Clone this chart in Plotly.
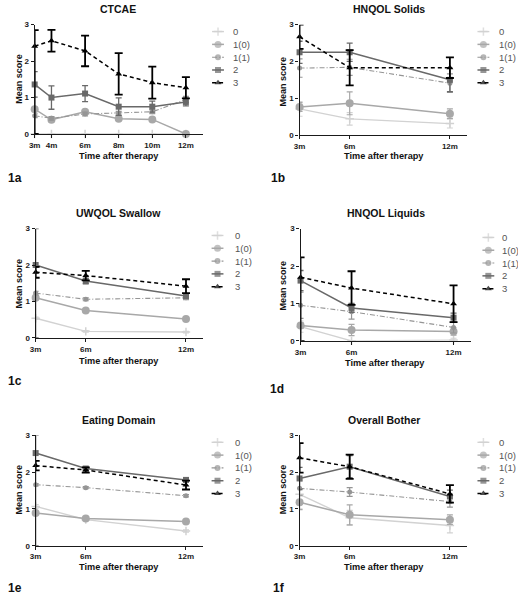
import plotly.graph_objects as go

W, H = 518, 599

SERIES = ["0", "1(0)", "1(1)", "2", "3"]

# ---------------- data ----------------
CTCAE_X = [3, 4, 6, 8, 10, 12]
CTCAE_TICKS = ["3m", "4m", "6m", "8m", "10m", "12m"]
CTCAE_0 = [0, 0, 0, 0, 0, 0]
CTCAE_10 = [0.68, 0.39, 0.61, 0.42, 0.40, 0.0]
CTCAE_11 = [0.50, 0.43, 0.55, 0.57, 0.61, 0.95]
CTCAE_2 = [1.36, 1.00, 1.11, 0.75, 0.75, 0.88]
CTCAE_3 = [2.41, 2.56, 2.28, 1.65, 1.41, 1.27]
CTCAE_0_ERR = [0, 0, 0, 0, 0, 0]
CTCAE_10_ERR = [0.05, 0.05, 0.05, 0.04, 0.04, 0]
CTCAE_11_ERR = [0.05, 0.05, 0.05, 0.05, 0.05, 0.08]
CTCAE_2_ERR = [0.35, 0.32, 0.22, 0.24, 0.15, 0.11]
CTCAE_3_ERR = [0.44, 0.30, 0.42, 0.57, 0.44, 0.29]
CTCAE_3_ERR_LO = [2.41, 0.30, 0.42, 0.57, 0.44, 0.29]

M3_X = [3, 6, 12]
M3_TICKS = ["3m", "6m", "12m"]

SOLIDS_0 = [0.71, 0.44, 0.31]
SOLIDS_10 = [0.76, 0.86, 0.58]
SOLIDS_11 = [1.82, 1.84, 1.41]
SOLIDS_2 = [2.25, 2.25, 1.50]
SOLIDS_3 = [2.67, 1.83, 1.83]
SOLIDS_0_ERR = [0.20, 0.17, 0.12]
SOLIDS_10_ERR = [0.12, 0.31, 0.13]
SOLIDS_11_ERR = [0.25, 0.22, 0.25]
SOLIDS_2_ERR = [0.30, 0.25, 0.32]
SOLIDS_3_ERR = [0.33, 0.48, 0.28]

SWALLOW_0 = [0.54, 0.18, 0.16]
SWALLOW_10 = [1.10, 0.75, 0.52]
SWALLOW_11 = [1.23, 1.06, 1.10]
SWALLOW_2 = [2.00, 1.56, 1.15]
SWALLOW_3 = [1.80, 1.71, 1.42]
SWALLOW_0_ERR = [0.03, 0.02, 0.02]
SWALLOW_10_ERR = [0.05, 0.04, 0.04]
SWALLOW_11_ERR = [0.05, 0.04, 0.05]
SWALLOW_2_ERR = [1.00, 0.08, 0.06]
SWALLOW_2_ERR_LO = [2.00, 0.08, 0.06]
SWALLOW_3_ERR = [0.15, 0.13, 0.19]

LIQUIDS_0 = [0.38, 0.0, 0.02]
LIQUIDS_10 = [0.41, 0.29, 0.25]
LIQUIDS_11 = [0.95, 0.78, 0.36]
LIQUIDS_2 = [1.61, 0.88, 0.62]
LIQUIDS_3 = [1.70, 1.41, 0.99]
LIQUIDS_0_ERR = [0.15, 0.0, 0.05]
LIQUIDS_10_ERR = [0.08, 0.15, 0.10]
LIQUIDS_11_ERR = [0.35, 0.20, 0.15]
LIQUIDS_2_ERR = [0.27, 0.12, 0.12]
LIQUIDS_3_ERR = [0.53, 0.45, 0.49]
LIQUIDS_3_ERR_LO = [1.70, 0.45, 0.49]

EATING_0 = [1.07, 0.71, 0.40]
EATING_10 = [0.89, 0.74, 0.66]
EATING_11 = [1.66, 1.58, 1.36]
EATING_2 = [2.52, 2.10, 1.79]
EATING_3 = [2.18, 2.06, 1.65]
EATING_0_ERR = [0.05, 0.03, 0.03]
EATING_10_ERR = [0.04, 0.04, 0.04]
EATING_11_ERR = [0.03, 0.03, 0.03]
EATING_2_ERR = [0.48, 0.04, 0.05]
EATING_2_ERR_LO = [2.52, 0.04, 0.05]
EATING_3_ERR = [0.13, 0.07, 0.12]

BOTHER_0 = [1.40, 0.76, 0.55]
BOTHER_10 = [1.18, 0.84, 0.71]
BOTHER_11 = [1.56, 1.46, 1.20]
BOTHER_2 = [1.83, 2.15, 1.34]
BOTHER_3 = [2.39, 2.15, 1.41]
BOTHER_0_ERR = [0.40, 0.20, 0.20]
BOTHER_10_ERR = [0.20, 0.27, 0.13]
BOTHER_11_ERR = [0.20, 0.12, 0.15]
BOTHER_2_ERR = [0.30, 0.30, 0.17]
BOTHER_3_ERR = [0.40, 0.33, 0.24]

Y_TICKS = [0, 1, 2, 3]

# ---------------- styles ----------------
STYLE = {
    "0": dict(color="#d2d2d2", symbol="cross-thin", size=6, dash="solid", width=1.4, ew=1.2, cap=3),
    "1(0)": dict(color="#a8a8a8", symbol="circle", size=8, dash="solid", width=1.5, ew=1.2, cap=3),
    "1(1)": dict(color="#959595", symbol="circle", size=5, dash="5px,2px,1px,2px", width=1.1, ew=1.2, cap=3),
    "2": dict(color="#696969", symbol="square", size=6, dash="solid", width=1.5, ew=1.3, cap=3),
    "3": dict(color="#000000", symbol="triangle-up", size=6, dash="4px,3px", width=1.5, ew=1.8, cap=4),
}

FONT = "Liberation Sans, Arial, sans-serif"


def pxx(x):
    return x / W


def pxy(y):
    return 1 - y / H


panels = [
    dict(title="CTCAE", label="1a", x=CTCAE_X, ticks=CTCAE_TICKS,
         vals=[CTCAE_0, CTCAE_10, CTCAE_11, CTCAE_2, CTCAE_3],
         errs=[CTCAE_0_ERR, CTCAE_10_ERR, CTCAE_11_ERR, CTCAE_2_ERR, CTCAE_3_ERR],
         lows={4: CTCAE_3_ERR_LO},
         box=(29, 199, 21, 132), tpos=(113, 5), xt=(114, 154), yt=(13, 76), lab=(0, 177),
         leg=(214.5, 228, 28)),
    dict(title="HNQOL Solids", label="1b", x=M3_X, ticks=M3_TICKS,
         vals=[SOLIDS_0, SOLIDS_10, SOLIDS_11, SOLIDS_2, SOLIDS_3],
         errs=[SOLIDS_0_ERR, SOLIDS_10_ERR, SOLIDS_11_ERR, SOLIDS_2_ERR, SOLIDS_3_ERR],
         lows={},
         box=(297, 466, 21, 133), tpos=(387, 5), xt=(382, 154), yt=(280, 79), lab=(266, 177),
         leg=(483, 497, 28)),
    dict(title="UWQOL Swallow", label="1c", x=M3_X, ticks=M3_TICKS,
         vals=[SWALLOW_0, SWALLOW_10, SWALLOW_11, SWALLOW_2, SWALLOW_3],
         errs=[SWALLOW_0_ERR, SWALLOW_10_ERR, SWALLOW_11_ERR, SWALLOW_2_ERR, SWALLOW_3_ERR],
         lows={3: SWALLOW_2_ERR_LO},
         box=(30, 199, 228, 339), tpos=(114, 212), xt=(114, 362), yt=(13, 284), lab=(0, 383),
         leg=(214, 230, 235)),
    dict(title="HNQOL Liquids", label="1d", x=M3_X, ticks=M3_TICKS,
         vals=[LIQUIDS_0, LIQUIDS_10, LIQUIDS_11, LIQUIDS_2, LIQUIDS_3],
         errs=[LIQUIDS_0_ERR, LIQUIDS_10_ERR, LIQUIDS_11_ERR, LIQUIDS_2_ERR, LIQUIDS_3_ERR],
         lows={4: LIQUIDS_3_ERR_LO},
         box=(298, 470, 228, 342), tpos=(384, 212), xt=(383, 364), yt=(280, 286), lab=(265, 391),
         leg=(488, 500, 237)),
    dict(title="Eating Domain", label="1e", x=M3_X, ticks=M3_TICKS,
         vals=[EATING_0, EATING_10, EATING_11, EATING_2, EATING_3],
         errs=[EATING_0_ERR, EATING_10_ERR, EATING_11_ERR, EATING_2_ERR, EATING_3_ERR],
         lows={3: EATING_2_ERR_LO},
         box=(30, 199, 438, 550), tpos=(114, 422), xt=(114, 572), yt=(13, 493), lab=(0, 593),
         leg=(214, 230, 445)),
    dict(title="Overall Bother", label="1f", x=M3_X, ticks=M3_TICKS,
         vals=[BOTHER_0, BOTHER_10, BOTHER_11, BOTHER_2, BOTHER_3],
         errs=[BOTHER_0_ERR, BOTHER_10_ERR, BOTHER_11_ERR, BOTHER_2_ERR, BOTHER_3_ERR],
         lows={},
         box=(297, 466, 438, 550), tpos=(382, 422), xt=(382, 572), yt=(280, 493), lab=(268, 593),
         leg=(483, 497, 445)),
]

fig = go.Figure()
annotations = []
layout_axes = {}

for i, p in enumerate(panels):
    n = i + 1
    xa = "x" if n == 1 else f"x{n}"
    ya = "y" if n == 1 else f"y{n}"
    x0, x1, y0, y1 = p["box"]
    axis_common = dict(showgrid=False, zeroline=False, showline=True, linecolor="#1a1a1a",
                       linewidth=1.3, ticks="outside", ticklen=3, tickwidth=1.2,
                       tickcolor="#1a1a1a",
                       tickfont=dict(family=FONT, size=8, color="#1a1a1a"))
    layout_axes["xaxis" if n == 1 else f"xaxis{n}"] = dict(
        domain=[pxx(x0), pxx(x1)], range=[3, 13], anchor=ya,
        tickvals=p["x"], ticktext=["<b>%s</b>" % t for t in p["ticks"]], **axis_common)
    layout_axes["yaxis" if n == 1 else f"yaxis{n}"] = dict(
        domain=[pxy(y1), pxy(y0)], range=[0, 3], anchor=xa,
        tickvals=Y_TICKS, ticktext=["<b>%d</b>" % t for t in Y_TICKS], **axis_common)

    for k, s in enumerate(SERIES):
        st = STYLE[s]
        err = p["errs"][k]
        lo = p["lows"].get(k, err)
        fig.add_trace(go.Scatter(
            x=p["x"], y=p["vals"][k], xaxis=xa, yaxis=ya, mode="lines+markers",
            name=s, cliponaxis=False, hoverinfo="skip",
            line=dict(color=st["color"], width=st["width"], dash=st["dash"]),
            marker=dict(symbol=st["symbol"], size=st["size"], color=st["color"],
                        line=dict(color=st["color"], width=1.5 if s == "0" else 0)),
            error_y=dict(type="data", symmetric=False, array=err, arrayminus=lo,
                         color=st["color"], thickness=st["ew"], width=st["cap"]),
        ))

    # titles and labels
    annotations.append(dict(text="<b>%s</b>" % p["title"], x=pxx(p["tpos"][0]), y=pxy(p["tpos"][1]),
                            xref="paper", yref="paper", showarrow=False, xanchor="center",
                            yanchor="middle", font=dict(family=FONT, size=10.5, color="#111")))
    annotations.append(dict(text="<b>Time after therapy</b>", x=pxx(p["xt"][0]), y=pxy(p["xt"][1]),
                            xref="paper", yref="paper", showarrow=False, xanchor="center",
                            yanchor="middle", font=dict(family=FONT, size=9.2, color="#111")))
    annotations.append(dict(text="<b>Mean score</b>", x=pxx(p["yt"][0]), y=pxy(p["yt"][1]),
                            xref="paper", yref="paper", showarrow=False, xanchor="center",
                            yanchor="middle", textangle=-90,
                            font=dict(family=FONT, size=9, color="#111")))
    annotations.append(dict(text="<b>%s</b>" % p["label"], x=pxx(p["lab"][0]), y=pxy(p["lab"][1]),
                            xref="paper", yref="paper", showarrow=False, xanchor="left",
                            yanchor="middle", font=dict(family=FONT, size=12, color="#111")))

    # manual legend (drawn on a pixel overlay axis)
    sx, tx, ly = p["leg"]
    for k, s in enumerate(SERIES):
        st = STYLE[s]
        yy = ly + 13 * k
        fig.add_trace(go.Scatter(
            x=[sx - 6, sx, sx + 6], y=[yy, yy, yy], xaxis="x7", yaxis="y7",
            mode="lines+markers", cliponaxis=False, hoverinfo="skip", showlegend=False,
            line=dict(color=st["color"], width=st["width"], dash=st["dash"]),
            marker=dict(symbol=st["symbol"], size=[0, max(st["size"] - 1, 6), 0], color=st["color"],
                        line=dict(color=st["color"], width=1.5 if s == "0" else 0)),
        ))
        annotations.append(dict(text=s, x=tx, y=yy, xref="x7", yref="y7", showarrow=False,
                                xanchor="left", yanchor="middle",
                                font=dict(family=FONT, size=9.5, color="#555")))

layout_axes["xaxis7"] = dict(domain=[0, 1], range=[0, W], visible=False, fixedrange=True)
layout_axes["yaxis7"] = dict(domain=[0, 1], range=[H, 0], visible=False, fixedrange=True)

fig.update_layout(
    width=W, height=H, margin=dict(l=0, r=0, t=0, b=0),
    plot_bgcolor="rgba(0,0,0,0)", paper_bgcolor="white", showlegend=False,
    font=dict(family=FONT), annotations=annotations, **layout_axes,
)

fig.write_html("out.html", post_script="document.body.style.margin='0px';",
               config={"displayModeBar": False})
